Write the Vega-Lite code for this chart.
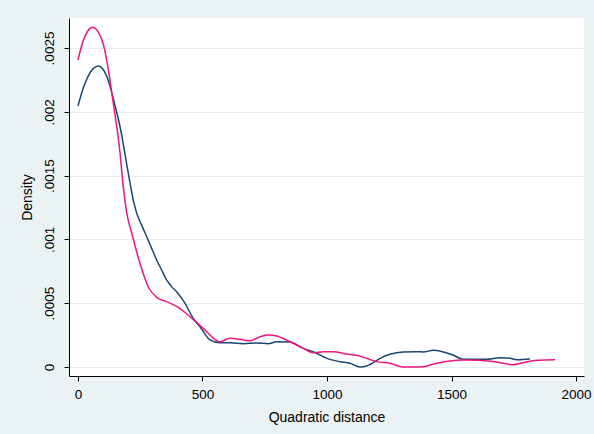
{
  "$schema": "https://vega.github.io/schema/vega-lite/v6.json",
  "width": 515,
  "height": 358,
  "autosize": {"type": "none"},
  "padding": {"left": 69, "top": 18, "right": 10, "bottom": 58},
  "background": "#eaf2f3",
  "config": {
    "view": {"fill": "white", "stroke": null},
    "font": "Liberation Sans",
    "axis": {
      "domainColor": "#000000",
      "tickColor": "#000000",
      "labelColor": "#000000",
      "titleColor": "#000000",
      "labelFont": "Liberation Sans",
      "titleFont": "Liberation Sans",
      "labelFontSize": 13.5,
      "titleFontSize": 14,
      "titleFontWeight": "normal",
      "tickSize": 5,
      "domainWidth": 1,
      "tickWidth": 1
    }
  },
  "data": {
    "values": [
      {"curve": "A", "x": 0, "density": 0.002045},
      {"curve": "A", "x": 21, "density": 0.002185},
      {"curve": "A", "x": 41, "density": 0.00228},
      {"curve": "A", "x": 62, "density": 0.00234},
      {"curve": "A", "x": 82, "density": 0.002359},
      {"curve": "A", "x": 100, "density": 0.002335},
      {"curve": "A", "x": 115, "density": 0.00228},
      {"curve": "A", "x": 129, "density": 0.002197},
      {"curve": "A", "x": 150, "density": 0.00204},
      {"curve": "A", "x": 169, "density": 0.001883},
      {"curve": "A", "x": 202, "density": 0.00152},
      {"curve": "A", "x": 222, "density": 0.001309},
      {"curve": "A", "x": 236, "density": 0.001205},
      {"curve": "A", "x": 256, "density": 0.00111},
      {"curve": "A", "x": 276, "density": 0.001021},
      {"curve": "A", "x": 296, "density": 0.00093},
      {"curve": "A", "x": 316, "density": 0.000839},
      {"curve": "A", "x": 336, "density": 0.00076},
      {"curve": "A", "x": 356, "density": 0.000682},
      {"curve": "A", "x": 376, "density": 0.00063},
      {"curve": "A", "x": 396, "density": 0.00059},
      {"curve": "A", "x": 430, "density": 0.000499},
      {"curve": "A", "x": 463, "density": 0.000381},
      {"curve": "A", "x": 490, "density": 0.000316},
      {"curve": "A", "x": 530, "density": 0.000212},
      {"curve": "A", "x": 570, "density": 0.00019},
      {"curve": "A", "x": 610, "density": 0.00019},
      {"curve": "A", "x": 664, "density": 0.000183},
      {"curve": "A", "x": 718, "density": 0.000188},
      {"curve": "A", "x": 764, "density": 0.000183},
      {"curve": "A", "x": 798, "density": 0.000198},
      {"curve": "A", "x": 851, "density": 0.000196},
      {"curve": "A", "x": 905, "density": 0.000146},
      {"curve": "A", "x": 954, "density": 0.000112},
      {"curve": "A", "x": 1000, "density": 0.000068},
      {"curve": "A", "x": 1052, "density": 0.000042},
      {"curve": "A", "x": 1092, "density": 0.000029},
      {"curve": "A", "x": 1133, "density": 0.0},
      {"curve": "A", "x": 1159, "density": 0.000008},
      {"curve": "A", "x": 1173, "density": 0.00002},
      {"curve": "A", "x": 1213, "density": 0.000068},
      {"curve": "A", "x": 1253, "density": 0.0001},
      {"curve": "A", "x": 1306, "density": 0.000118},
      {"curve": "A", "x": 1360, "density": 0.00012},
      {"curve": "A", "x": 1387, "density": 0.000118},
      {"curve": "A", "x": 1427, "density": 0.000131},
      {"curve": "A", "x": 1467, "density": 0.000118},
      {"curve": "A", "x": 1507, "density": 0.000094},
      {"curve": "A", "x": 1541, "density": 0.000063},
      {"curve": "A", "x": 1588, "density": 0.00006},
      {"curve": "A", "x": 1641, "density": 0.00006},
      {"curve": "A", "x": 1695, "density": 0.000073},
      {"curve": "A", "x": 1735, "density": 0.000068},
      {"curve": "A", "x": 1762, "density": 0.000057},
      {"curve": "A", "x": 1815, "density": 0.000063},
      {"curve": "B", "x": 0, "density": 0.002406},
      {"curve": "B", "x": 15, "density": 0.00252},
      {"curve": "B", "x": 28, "density": 0.002591},
      {"curve": "B", "x": 40, "density": 0.002635},
      {"curve": "B", "x": 59, "density": 0.002662},
      {"curve": "B", "x": 70, "density": 0.002653},
      {"curve": "B", "x": 82, "density": 0.002623},
      {"curve": "B", "x": 95, "density": 0.00257},
      {"curve": "B", "x": 108, "density": 0.00248},
      {"curve": "B", "x": 122, "density": 0.002328},
      {"curve": "B", "x": 142, "density": 0.002067},
      {"curve": "B", "x": 169, "density": 0.001675},
      {"curve": "B", "x": 179, "density": 0.001466},
      {"curve": "B", "x": 196, "density": 0.001205},
      {"curve": "B", "x": 216, "density": 0.001048},
      {"curve": "B", "x": 249, "density": 0.000813},
      {"curve": "B", "x": 282, "density": 0.000629},
      {"curve": "B", "x": 316, "density": 0.000546},
      {"curve": "B", "x": 356, "density": 0.000512},
      {"curve": "B", "x": 403, "density": 0.000468},
      {"curve": "B", "x": 450, "density": 0.000394},
      {"curve": "B", "x": 503, "density": 0.000303},
      {"curve": "B", "x": 570, "density": 0.000198},
      {"curve": "B", "x": 610, "density": 0.000225},
      {"curve": "B", "x": 651, "density": 0.000217},
      {"curve": "B", "x": 691, "density": 0.000206},
      {"curve": "B", "x": 731, "density": 0.000237},
      {"curve": "B", "x": 764, "density": 0.000251},
      {"curve": "B", "x": 798, "density": 0.000243},
      {"curve": "B", "x": 851, "density": 0.000198},
      {"curve": "B", "x": 905, "density": 0.000146},
      {"curve": "B", "x": 945, "density": 0.000112},
      {"curve": "B", "x": 985, "density": 0.00012},
      {"curve": "B", "x": 1025, "density": 0.00012},
      {"curve": "B", "x": 1079, "density": 0.000102},
      {"curve": "B", "x": 1119, "density": 0.000092},
      {"curve": "B", "x": 1159, "density": 0.000068},
      {"curve": "B", "x": 1200, "density": 0.000042},
      {"curve": "B", "x": 1253, "density": 0.000029},
      {"curve": "B", "x": 1306, "density": 0.0},
      {"curve": "B", "x": 1373, "density": 0.0},
      {"curve": "B", "x": 1441, "density": 0.000029},
      {"curve": "B", "x": 1494, "density": 0.000047},
      {"curve": "B", "x": 1547, "density": 0.000055},
      {"curve": "B", "x": 1614, "density": 0.000052},
      {"curve": "B", "x": 1668, "density": 0.000044},
      {"curve": "B", "x": 1708, "density": 0.000029},
      {"curve": "B", "x": 1748, "density": 0.000018},
      {"curve": "B", "x": 1788, "density": 0.000034},
      {"curve": "B", "x": 1842, "density": 0.000052},
      {"curve": "B", "x": 1916, "density": 0.000057}
    ]
  },
  "mark": {"type": "line", "interpolate": "monotone", "strokeWidth": 1.5, "clip": true},
  "encoding": {
    "x": {
      "field": "x",
      "type": "quantitative",
      "title": "Quadratic distance",
      "scale": {"domain": [-36, 2032], "nice": false, "zero": false},
      "axis": {
        "values": [0, 500, 1000, 1500, 2000],
        "format": "d",
        "grid": false,
        "labelPadding": 6,
        "titlePadding": 10,
        "labelFlush": false,
        "labelOverlap": false
      }
    },
    "y": {
      "field": "density",
      "type": "quantitative",
      "title": "Density",
      "scale": {"domain": [-0.0000705, 0.002735], "nice": false, "zero": false},
      "axis": {
        "values": [0, 0.0005, 0.001, 0.0015, 0.002, 0.0025],
        "labelExpr": "datum.value == 0 ? '0' : replace(format(datum.value, '.4~f'), '0.', '.')",
        "labelAngle": 270,
        "labelAlign": "center",
        "labelBaseline": "bottom",
        "labelPadding": 8,
        "labelFlush": false,
        "labelOverlap": false,
        "titlePadding": 8,
        "grid": true,
        "gridColor": "#e6eef0",
        "gridWidth": 1
      }
    },
    "color": {
      "field": "curve",
      "type": "nominal",
      "scale": {"domain": ["A", "B"], "range": ["#1a476f", "#f0147f"]},
      "legend": null
    },
    "order": {"field": "curve"}
  }
}
